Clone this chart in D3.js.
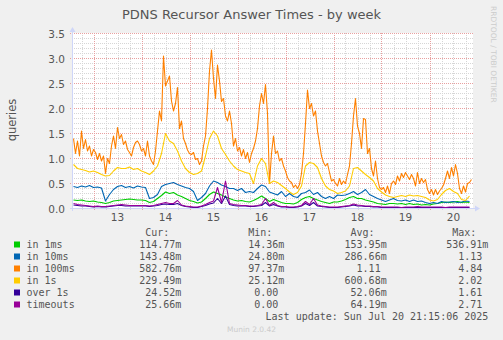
<!DOCTYPE html>
<html>
<head>
<meta charset="utf-8">
<script src="https://cdn.jsdelivr.net/npm/d3@7"></script>
<style>
  body { margin: 0; background: #f0f0f0; }
  svg { display: block; }
</style>
</head>
<body>
<svg id="chart" width="503" height="340"></svg>
<script>
// legend rows, in drawing order
const seriesNames  = ["in 1ms", "in 10ms", "in 100ms", "in 1s", "over 1s", "timeouts"];
const seriesColors = ["#00CC00", "#0066B3", "#FF8000", "#FFCC00", "#330099", "#990099"];
const curVals = ["114.77m", "143.48m", "582.76m", "229.49m", "24.52m", "25.66m"];
const minVals = ["14.36m", "24.80m", "97.37m", "25.12m", "0.00", "0.00"];
const avgVals = ["153.95m", "286.66m", "1.11", "600.68m", "52.06m", "64.19m"];
const maxVals = ["536.91m", "1.13", "4.84", "2.02", "1.61", "2.71"];

const dayLabels = ["13", "14", "15", "16", "17", "18", "19", "20"];
const yTicks = ["0.0", "0.5", "1.0", "1.5", "2.0", "2.5", "3.0", "3.5"];

// samples start Sat Jul 12 14:00; in 100ms is hourly, the others every 2 hours
const in100ms = [
  1.40, 1.10, 1.35, 1.05, 1.55, 1.20, 1.38, 1.15, 1.25, 1.05, 1.18,
  1.12, 0.98, 1.10, 0.95, 1.05, 0.70, 1.00, 0.90, 1.25, 1.45, 1.20, 1.62,
  1.40, 1.48, 1.28, 1.35, 1.18, 1.12, 1.05, 1.22, 1.32, 1.35, 1.28, 1.15,
  1.20, 1.05, 1.35, 1.05, 0.95, 0.88, 1.15, 1.55, 1.95, 1.75, 3.05, 2.45,
  2.55, 2.65, 2.15, 1.95, 2.10, 2.42, 1.60, 1.75, 1.40, 1.30, 1.17, 1.10,
  1.08, 1.12, 0.98, 1.00, 0.88, 0.95, 1.25, 1.45, 2.00, 2.75, 3.17, 2.60,
  2.20, 2.87, 2.55, 2.14, 2.20, 1.85, 1.75, 1.95, 1.70, 1.25, 1.40, 1.15,
  1.22, 1.05, 1.18, 1.00, 1.12, 0.92, 1.10, 1.20, 1.35, 1.60, 2.05, 2.30,
  2.10, 2.48, 1.90, 0.50, 1.10, 1.45, 1.10, 1.15, 0.95, 1.00, 0.85, 0.75,
  0.62, 0.55, 0.52, 0.42, 0.47, 0.40, 0.48, 0.70, 1.10, 1.70, 2.37, 2.00,
  2.10, 1.85, 1.95, 1.55, 1.30, 1.05, 0.92, 0.85, 0.90, 0.72, 0.55, 0.58,
  0.50, 0.45, 0.60, 0.48, 0.55, 0.50, 0.68, 0.85, 1.30, 1.85, 2.20, 1.65,
  1.50, 1.20, 1.80, 1.78, 1.10, 1.20, 0.80, 0.65, 0.95, 0.60, 0.42, 0.38,
  0.42, 0.32, 0.45, 0.30, 0.50, 0.55, 0.48, 0.65, 0.55, 0.70, 0.62, 0.72,
  0.65, 0.58, 0.68, 0.60, 0.45, 0.72, 0.50, 0.60, 0.52, 0.58, 0.38, 0.30,
  0.38, 0.27, 0.38, 0.28, 0.35, 0.40, 0.47, 0.60, 0.75, 0.60, 0.82, 0.65,
  0.88, 0.70, 0.40, 0.30, 0.45, 0.33, 0.50, 0.52, 0.58
];

const in1s = [
  0.88, 0.80, 0.78, 0.76, 0.73, 0.75, 0.72, 0.68, 0.65, 0.66,
  0.75, 0.82, 0.80, 0.80, 0.83, 0.78, 0.80, 0.75, 0.72, 0.68,
  0.75, 0.85, 1.10, 1.50, 1.35, 1.30, 1.15, 0.95, 0.80, 0.72,
  0.68, 0.70, 0.75, 1.05, 1.40, 1.55, 1.45, 1.20, 1.08, 0.95,
  0.85, 0.78, 0.75, 0.72, 0.70, 0.50, 0.85, 1.00, 0.90, 0.50,
  0.55, 0.52, 0.46, 0.40, 0.33, 0.28, 0.32, 0.45, 0.85, 0.92,
  0.90, 0.82, 0.60, 0.45, 0.38, 0.35, 0.30, 0.32, 0.35, 0.45,
  0.80, 0.82, 0.75, 0.68, 0.62, 0.55, 0.40, 0.33, 0.27, 0.24,
  0.22, 0.24, 0.26, 0.24, 0.27, 0.25, 0.26, 0.24, 0.22, 0.17,
  0.15, 0.18, 0.28, 0.36, 0.40, 0.34, 0.30, 0.18, 0.16, 0.25
];

const in10ms = [
  0.44, 0.42, 0.45, 0.43, 0.46, 0.42, 0.43, 0.41, 0.15, 0.28,
  0.38, 0.44, 0.46, 0.42, 0.44, 0.41, 0.45, 0.43, 0.42, 0.20,
  0.22, 0.28, 0.44, 0.48, 0.50, 0.52, 0.48, 0.45, 0.42, 0.40,
  0.34, 0.16, 0.22, 0.30, 0.45, 0.55, 0.52, 0.47, 0.44, 0.40,
  0.40, 0.36, 0.40, 0.32, 0.34, 0.32, 0.40, 0.47, 0.44, 0.33,
  0.30, 0.27, 0.34, 0.24, 0.30, 0.24, 0.22, 0.30, 0.32, 0.37,
  0.28, 0.32, 0.24, 0.20, 0.24, 0.20, 0.27, 0.26, 0.27, 0.30,
  0.34, 0.28, 0.32, 0.38, 0.28, 0.24, 0.20, 0.17, 0.14, 0.17,
  0.20, 0.16, 0.15, 0.17, 0.14, 0.17, 0.14, 0.15, 0.12, 0.10,
  0.12, 0.10, 0.14, 0.12, 0.13, 0.14, 0.12, 0.13, 0.15, 0.14
];

const in1ms = [
  0.17, 0.16, 0.17, 0.15, 0.14, 0.15, 0.13, 0.12, 0.10, 0.12,
  0.15, 0.16, 0.17, 0.18, 0.19, 0.18, 0.17, 0.17, 0.16, 0.12,
  0.14, 0.20, 0.26, 0.33, 0.30, 0.32, 0.27, 0.24, 0.20, 0.16,
  0.14, 0.11, 0.13, 0.20, 0.28, 0.33, 0.30, 0.27, 0.23, 0.20,
  0.17, 0.15, 0.16, 0.14, 0.13, 0.16, 0.20, 0.25, 0.20, 0.14,
  0.18, 0.15, 0.12, 0.10, 0.10, 0.09, 0.12, 0.18, 0.22, 0.24,
  0.20, 0.17, 0.14, 0.12, 0.10, 0.13, 0.13, 0.15, 0.18, 0.22,
  0.24, 0.20, 0.20, 0.17, 0.15, 0.13, 0.10, 0.09, 0.08, 0.10,
  0.10, 0.09, 0.10, 0.08, 0.10, 0.08, 0.09, 0.07, 0.08, 0.07,
  0.09, 0.10, 0.12, 0.13, 0.12, 0.13, 0.14, 0.12, 0.13, 0.12
];

const over1s = [
  0.07, 0.06, 0.05, 0.05, 0.04, 0.03, 0.04, 0.03, 0.03, 0.04,
  0.05, 0.06, 0.06, 0.05, 0.05, 0.05, 0.05, 0.05, 0.05, 0.04,
  0.05, 0.06, 0.08, 0.09, 0.08, 0.08, 0.10, 0.06, 0.04, 0.03,
  0.02, 0.02, 0.04, 0.06, 0.09, 0.11, 0.20, 0.10, 0.25, 0.08,
  0.06, 0.05, 0.05, 0.05, 0.04, 0.04, 0.05, 0.06, 0.12, 0.05,
  0.08, 0.05, 0.03, 0.03, 0.02, 0.02, 0.03, 0.05, 0.10, 0.06,
  0.12, 0.05, 0.04, 0.03, 0.02, 0.02, 0.02, 0.03, 0.04, 0.05,
  0.07, 0.05, 0.05, 0.04, 0.04, 0.03, 0.03, 0.02, 0.02, 0.02,
  0.02, 0.02, 0.02, 0.02, 0.02, 0.02, 0.02, 0.02, 0.02, 0.02,
  0.02, 0.02, 0.02, 0.02, 0.02, 0.02, 0.02, 0.02, 0.02, 0.02
];

const timeouts = [
  0.10, 0.08, 0.07, 0.06, 0.05, 0.04, 0.05, 0.04, 0.04, 0.05,
  0.06, 0.07, 0.08, 0.07, 0.06, 0.06, 0.06, 0.06, 0.06, 0.05,
  0.06, 0.08, 0.10, 0.12, 0.10, 0.10, 0.16, 0.07, 0.05, 0.04,
  0.03, 0.03, 0.05, 0.08, 0.12, 0.15, 0.42, 0.12, 0.55, 0.10,
  0.08, 0.07, 0.06, 0.06, 0.05, 0.05, 0.06, 0.08, 0.20, 0.06,
  0.12, 0.06, 0.04, 0.04, 0.03, 0.03, 0.04, 0.06, 0.14, 0.08,
  0.20, 0.07, 0.05, 0.04, 0.03, 0.03, 0.03, 0.04, 0.05, 0.06,
  0.09, 0.07, 0.06, 0.05, 0.05, 0.04, 0.04, 0.03, 0.03, 0.03,
  0.03, 0.03, 0.02, 0.03, 0.03, 0.03, 0.04, 0.03, 0.03, 0.03,
  0.03, 0.03, 0.03, 0.02, 0.03, 0.03, 0.03, 0.03, 0.03, 0.03
];

const seriesData = [in1ms, in10ms, in100ms, in1s, over1s, timeouts];
const seriesStepHours = [2, 2, 1, 2, 2, 2];
const firstSample = Date.UTC(2025, 6, 12, 14);

// --------------------------------
// scales
// --------------------------------
const svg = d3.select("#chart");
const plotL = 72, plotR = 473, plotT = 33, plotB = 208;

const x = d3.scaleUtc()
  .domain([new Date(Date.UTC(2025, 6, 12, 13, 15)), new Date(Date.UTC(2025, 6, 20, 21, 45))])
  .range([plotL, plotR]);
const y = d3.scaleLinear().domain([0, 3.5]).range([plotB + 0.5, plotT + 0.5]);

svg.append("rect").attr("width", 503).attr("height", 340).attr("fill", "#F0F0F0");
svg.append("rect")
  .attr("x", plotL).attr("y", plotT)
  .attr("width", plotR - plotL).attr("height", plotB - plotT + 1)
  .attr("fill", "#FFFFFF");

// --------------------------------
// grid
// --------------------------------
const grid = svg.append("g").attr("fill", "none").attr("stroke-width", 1).attr("stroke-dasharray", "1,1");

const minorY = d3.range(0, 36).filter(k => k % 5 !== 0).map(k => k / 10);
grid.selectAll(".hminor").data(minorY).enter().append("line")
  .attr("x1", plotL).attr("x2", plotR)
  .attr("y1", d => Math.round(y(d) - 0.5) + 0.5).attr("y2", d => Math.round(y(d) - 0.5) + 0.5)
  .attr("stroke", "#D6D6D6");

const [t0, t1] = x.domain();
const sixHours = d3.utcHour.every(6).range(t0, t1).filter(d => d.getUTCHours() !== 0);
grid.selectAll(".vminor").data(sixHours).enter().append("line")
  .attr("x1", d => Math.round(x(d)) + 0.5).attr("x2", d => Math.round(x(d)) + 0.5)
  .attr("y1", plotT).attr("y2", plotB + 3)
  .attr("stroke", "#D6D6D6");

grid.selectAll(".hmajor").data(yTicks).enter().append("line")
  .attr("x1", plotL - 2).attr("x2", plotR)
  .attr("y1", d => Math.round(y(+d) - 0.5) + 0.5).attr("y2", d => Math.round(y(+d) - 0.5) + 0.5)
  .attr("stroke", "#E8A0A0");

grid.selectAll(".vmajor").data(d3.utcDay.range(t0, t1)).enter().append("line")
  .attr("x1", d => Math.round(x(d)) + 0.5).attr("x2", d => Math.round(x(d)) + 0.5)
  .attr("y1", plotT).attr("y2", plotB + 3)
  .attr("stroke", "#E8A0A0");

// --------------------------------
// lines
// --------------------------------
svg.append("clipPath").attr("id", "plot")
  .append("rect").attr("x", plotL).attr("y", plotT - 5).attr("width", plotR - plotL).attr("height", plotB - plotT + 6);

const line = d3.line()
  .x(d => x(d.t))
  .y(d => y(d.v));

svg.append("g")
  .attr("clip-path", "url(#plot)")
  .selectAll("path")
  .data(seriesData.map((vals, i) => vals.map((v, k) => ({
    t: new Date(firstSample + k * seriesStepHours[i] * 3600e3), v
  }))))
  .enter()
  .append("path")
  .attr("d", line)
  .attr("fill", "none")
  .attr("stroke", (d, i) => seriesColors[i])
  .attr("stroke-width", 1.1)
  .attr("stroke-linejoin", "round");

// --------------------------------
// axes
// --------------------------------
const axisColor = "#CFD6F8";
svg.append("line").attr("x1", plotL - 2).attr("x2", plotR + 3).attr("y1", plotB + 0.5).attr("y2", plotB + 0.5)
  .attr("stroke", axisColor);
svg.append("path").attr("d", `M${plotR + 2},${plotB - 2.5}L${plotR + 7},${plotB + 0.5}L${plotR + 2},${plotB + 3.5}Z`)
  .attr("fill", axisColor);
svg.append("line").attr("x1", plotL + 0.5).attr("x2", plotL + 0.5).attr("y1", plotB + 3).attr("y2", plotT - 2)
  .attr("stroke", axisColor);
svg.append("path").attr("d", `M${plotL - 2.5},${plotT - 1}L${plotL + 0.5},${plotT - 6}L${plotL + 3.5},${plotT - 1}Z`)
  .attr("fill", axisColor);

const textColor = "#555555";

svg.append("g").selectAll("text").data(yTicks).enter().append("text")
  .attr("x", 65).attr("y", d => y(+d) + 4)
  .attr("text-anchor", "end")
  .attr("font-family", "DejaVu Sans").attr("font-size", 10.5)
  .attr("fill", textColor)
  .text(d => d);

svg.append("g").selectAll("text").data(dayLabels).enter().append("text")
  .attr("x", d => x(new Date(Date.UTC(2025, 6, +d, 12))))
  .attr("y", 221)
  .attr("text-anchor", "middle")
  .attr("font-family", "DejaVu Sans").attr("font-size", 10.5)
  .attr("fill", textColor)
  .text(d => d);

svg.append("text")
  .attr("x", 251.5).attr("y", 18.5)
  .attr("text-anchor", "middle")
  .attr("font-family", "DejaVu Sans").attr("font-size", 13)
  .attr("fill", textColor)
  .text("PDNS Recursor Answer Times - by week");

svg.append("text")
  .attr("transform", "translate(15.5,120) rotate(-90)")
  .attr("text-anchor", "middle")
  .attr("font-family", "DejaVu Sans").attr("font-size", 11.5)
  .attr("fill", textColor)
  .text("queries");

svg.append("text")
  .attr("transform", "translate(491,6) rotate(90)")
  .attr("text-anchor", "start")
  .attr("font-family", "DejaVu Sans").attr("font-size", 7.5)
  .attr("fill", "#CCCCCC")
  .text("RRDTOOL / TOBI OETIKER");

// --------------------------------
// legend
// --------------------------------
const mono = "DejaVu Sans Mono";
const charW = 6.02;
const colRight = [181.3, 284.3, 386.7, 488.3];
const headers = ["Cur:", "Min:", "Avg:", "Max:"];

svg.append("g").selectAll("text").data(headers).enter().append("text")
  .attr("x", (d, i) => colRight[i] - 2 * charW).attr("y", 236)
  .attr("text-anchor", "end")
  .attr("font-family", mono).attr("font-size", 10)
  .attr("fill", textColor)
  .text(d => d);

const rows = svg.append("g").selectAll("g").data(seriesNames).enter().append("g")
  .attr("transform", (d, i) => `translate(0,${248 + i * 12})`);

rows.append("rect")
  .attr("x", 14).attr("y", -6.5).attr("width", 6).attr("height", 6)
  .attr("fill", (d, i) => seriesColors[i]);

rows.append("text")
  .attr("x", 26.5).attr("y", 0)
  .attr("font-family", mono).attr("font-size", 10)
  .attr("fill", textColor)
  .text(d => d);

const columns = [curVals, minVals, avgVals, maxVals];
columns.forEach((col, c) => {
  rows.append("text")
    .attr("x", (d, i) => colRight[c] - (/[a-z]$/.test(col[i]) ? 0 : charW))
    .attr("y", 0)
    .attr("text-anchor", "end")
    .attr("font-family", mono).attr("font-size", 10)
    .attr("fill", textColor)
    .text((d, i) => col[i]);
});

svg.append("text")
  .attr("x", 488.3).attr("y", 320)
  .attr("text-anchor", "end")
  .attr("font-family", mono).attr("font-size", 10)
  .attr("fill", textColor)
  .text("Last update: Sun Jul 20 21:15:06 2025");

svg.append("text")
  .attr("x", 251.5).attr("y", 332)
  .attr("text-anchor", "middle")
  .attr("font-family", "DejaVu Sans").attr("font-size", 7.5)
  .attr("fill", "#CCCCCC")
  .text("Munin 2.0.42");
</script>
</body>
</html>
